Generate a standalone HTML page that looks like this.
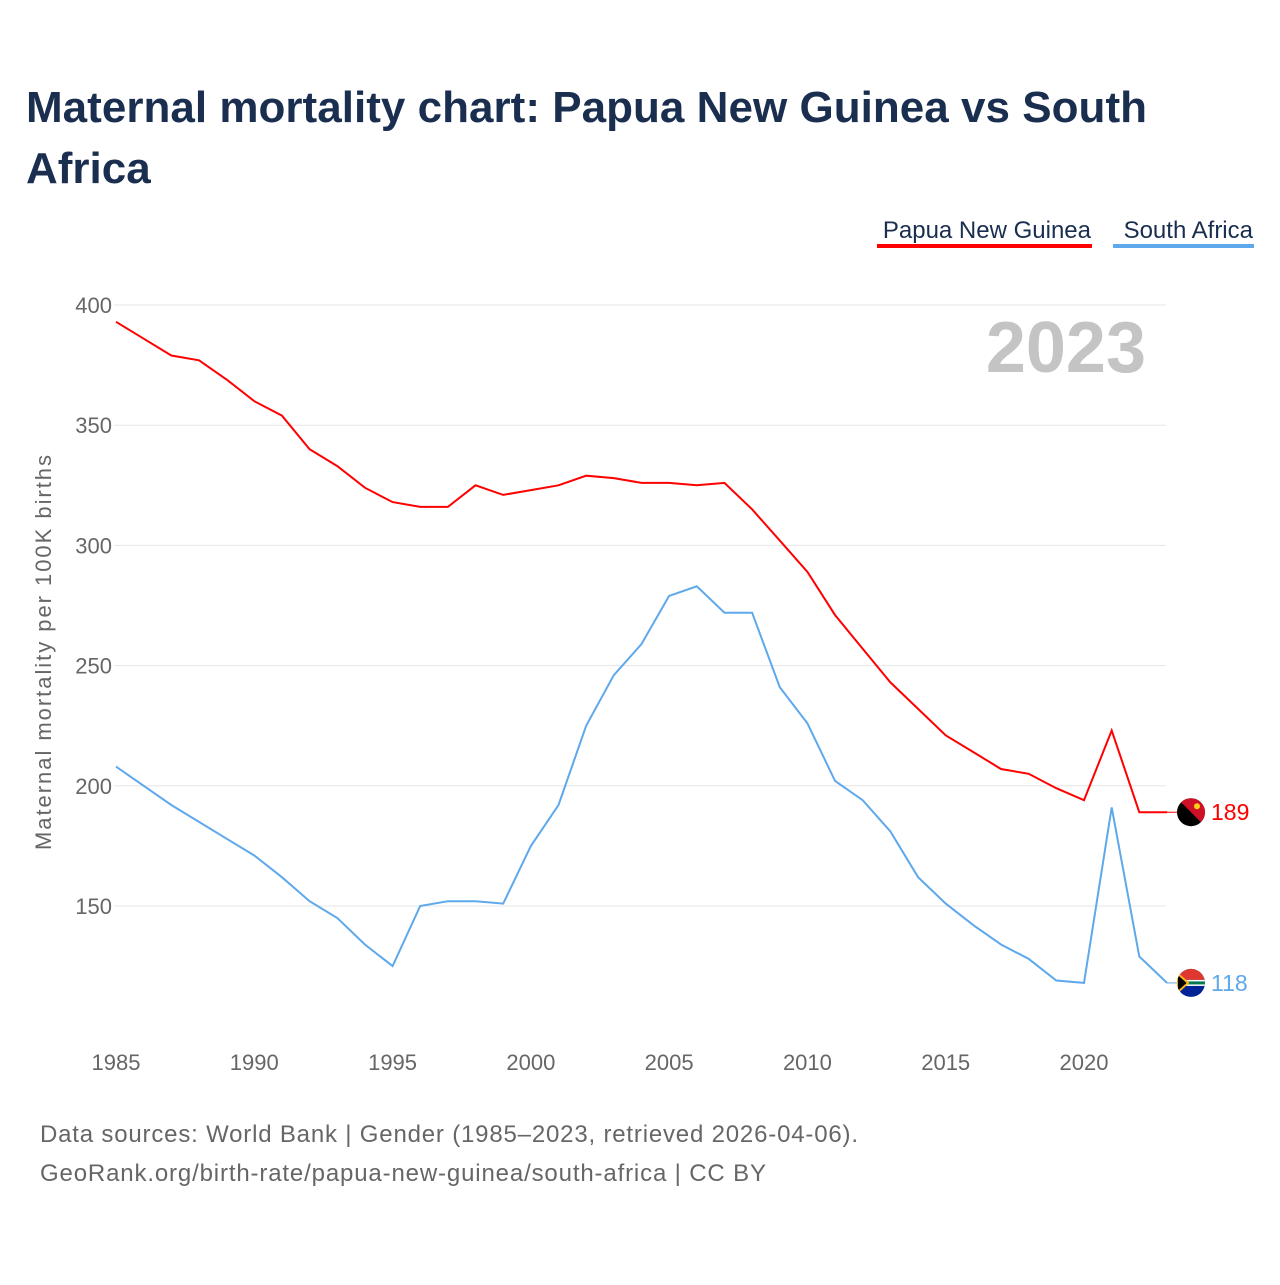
<!DOCTYPE html>
<html><head><meta charset="utf-8">
<style>
body{margin:0;background:#fff;width:1280px;height:1280px;overflow:hidden;font-family:"Liberation Sans",sans-serif;}
</style></head>
<body>
<svg id="chart" width="1280" height="1280" xmlns="http://www.w3.org/2000/svg">
<defs>
<clipPath id="c1"><circle cx="1191" cy="812" r="14"/></clipPath>
<clipPath id="c2"><circle cx="1191" cy="982" r="14"/></clipPath>
</defs>
<text x="26" y="122" font-size="44" font-weight="bold" fill="#1a2e4f" textLength="1121">Maternal mortality chart: Papua New Guinea vs South</text>
<text x="26" y="183" font-size="44" font-weight="bold" fill="#1a2e4f">Africa</text>
<g>
<text x="1091" y="238" font-size="24" fill="#1a2e4f" text-anchor="end">Papua New Guinea</text>
<rect x="877" y="244" width="215" height="4" fill="#ff0000"/>
</g>
<g>
<text x="1253" y="238" font-size="24" fill="#1a2e4f" text-anchor="end">South Africa</text>
<rect x="1113" y="244" width="141" height="4" fill="#5ea8ec"/>
</g>
<text x="1146" y="372" font-size="72" font-weight="bold" fill="#c4c4c4" text-anchor="end">2023</text>
<text transform="translate(51,850) rotate(-90)" font-size="22" fill="#666" textLength="395">Maternal mortality per 100K births</text>
<g id="grid"></g><g id="xt"></g><g id="lines"></g>
<text x="40" y="1142" font-size="24" fill="#666" textLength="818">Data sources: World Bank | Gender (1985–2023, retrieved 2026-04-06).</text>
<text x="40" y="1181" font-size="24" fill="#666" textLength="726">GeoRank.org/birth-rate/papua-new-guinea/south-africa | CC BY</text>
</svg>
<script>
const years=[1985,1986,1987,1988,1989,1990,1991,1992,1993,1994,1995,1996,1997,1998,1999,2000,2001,2002,2003,2004,2005,2006,2007,2008,2009,2010,2011,2012,2013,2014,2015,2016,2017,2018,2019,2020,2021,2022,2023];
const png=[393,386,379,377,369,360,354,340,333,324,318,316,316,325,321,323,325,329,328,326,326,325,326,315,302,289,271,257,243,232,221,214,207,205,199,194,223,189,189];
const za=[208,200,192,185,178,171,162,152,145,134,125,150,152,152,151,175,192,225,246,259,279,283,272,272,241,226,202,194,181,162,151,142,134,128,119,118,191,129,118];
const yTicks=[150,200,250,300,350,400];
const xTicks=[1985,1990,1995,2000,2005,2010,2015,2020];
const NS="http://www.w3.org/2000/svg";
const X=y=>116+(y-1985)*27.657;
const Y=v=>305+(400-v)*2.404;
function mk(t,a,p){const e=document.createElementNS(NS,t);for(const k in a)e.setAttribute(k,a[k]);p.appendChild(e);return e;}
const grid=document.getElementById('grid');
yTicks.forEach(v=>{
 const l=mk('line',{x1:114,x2:1166,y1:Y(v),y2:Y(v),stroke:'#e6e6e6','stroke-width':1},grid);
 
 
 const t=mk('text',{x:112,y:Y(v)+8,'font-size':22,fill:'#666','text-anchor':'end'},grid);
 t.textContent=v;
 
 
});
const xt=document.getElementById('xt');
xTicks.forEach(v=>{
 const t=mk('text',{x:X(v),y:1070,'font-size':22,fill:'#666','text-anchor':'middle'},xt);
 t.textContent=v;
 
 
});
const lines=document.getElementById('lines');
function series(vals,col,name,clip){
 const d=vals.map((v,i)=>(i?'L':'M')+X(years[i]).toFixed(1)+','+Y(v).toFixed(1)).join('');
 const p=mk('path',{d:d,fill:'none',stroke:col,'stroke-width':2},lines);
 
 
 const last=vals[vals.length-1],ly=Y(last);
 mk('line',{x1:X(2023),x2:1178,y1:ly,y2:ly,stroke:col,'stroke-width':1},lines);
 const f=mk('g',{},lines);
 
 
 const g=mk('g',{'clip-path':'url(#'+clip+')',transform:'translate(0,'+(ly-(clip=='c1'?812:982))+')'},f);
 return {g,last,ly};
}
const a=series(png,'#ff0000','png','c1');
mk('rect',{x:1176,y:797,width:30,height:30,fill:'#000'},a.g);
mk('path',{d:'M1177,798L1205,798L1205,826z',fill:'#ce1126'},a.g);
mk('circle',{cx:1197,cy:806,r:3,fill:'#fcd116'},a.g);
const b=series(za,'#5ea8ec','za','c2');
mk('rect',{x:1176,y:967,width:30,height:30,fill:'#002395'},b.g);
mk('rect',{x:1176,y:967,width:30,height:12,fill:'#de3831'},b.g);
mk('rect',{x:1176,y:979,width:30,height:6,fill:'#fff'},b.g);
mk('rect',{x:1176,y:980.5,width:30,height:3,fill:'#007a4d'},b.g);
mk('path',{d:'M1177,972l11,10l-11,10z',fill:'#000',stroke:'#ffb612','stroke-width':2},b.g);
[[a,'#ff0000','png'],[b,'#5ea8ec','za']].forEach(([s,c,n])=>{
 const t=mk('text',{x:1211,y:s.ly+8,'font-size':23,fill:c},lines);
 t.textContent=s.last;
 
 
});
</script>
</body></html>
